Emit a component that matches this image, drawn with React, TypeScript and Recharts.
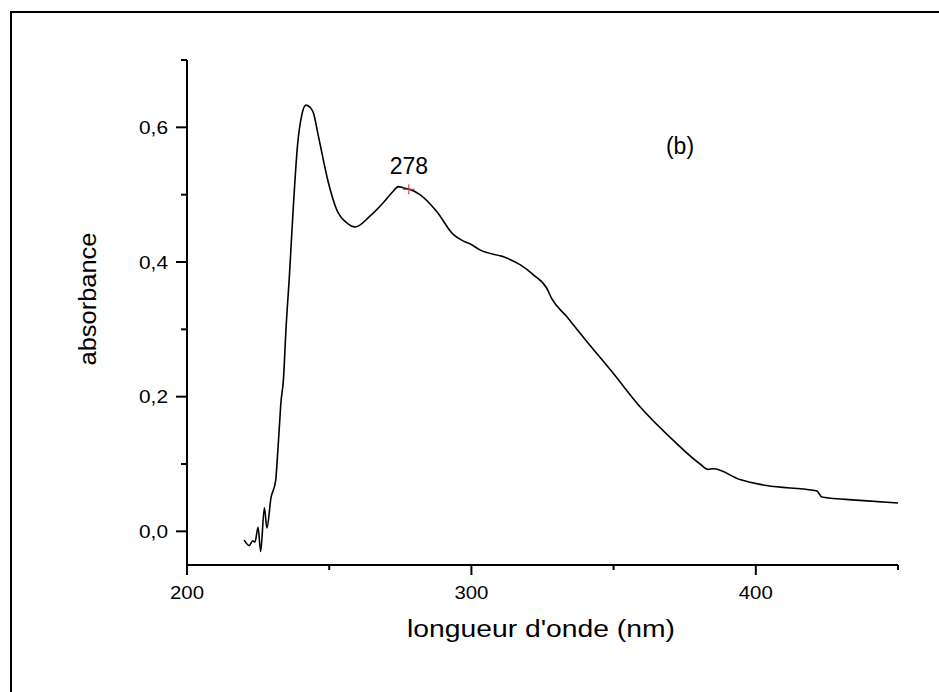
import { Label, Line, LineChart, ReferenceDot, XAxis, YAxis } from 'recharts'

// UV-vis spectrum (b)
const wavelength = [
  220.1, 221.9, 223.1, 223.9, 225.0, 225.9, 227.2, 228.1, 229.5, 231.2, 231.8, 232.4, 233.0, 233.9,
  234.8, 236.0, 237.4, 238.9, 240.3, 241.8, 243.2, 244.4, 246.2, 249.7, 252.6, 256.2, 259.1, 264.3,
  269.0, 272.5, 274.3, 276.1, 278.2, 281.9, 287.8, 293.6, 297.2, 299.5, 303.0, 312.4, 317.1, 321.8,
  326.5, 328.2, 333.5, 340.0, 350.0, 359.3, 371.0, 380.4, 383.3, 385.1, 394.4, 403.8, 420.2, 421.5,
  423.2, 436.6, 450.0,
]
const absorbance = [
  -0.013, -0.021, -0.014, -0.016, 0.006, -0.03, 0.035, 0.005, 0.049, 0.076, 0.111, 0.15, 0.19, 0.225,
  0.3, 0.379, 0.483, 0.575, 0.617, 0.633, 0.63, 0.622, 0.587, 0.518, 0.478, 0.458, 0.452, 0.468,
  0.488, 0.505, 0.512, 0.51, 0.508, 0.5, 0.475, 0.441, 0.431, 0.427, 0.418, 0.406, 0.396, 0.381,
  0.361, 0.346, 0.319, 0.285, 0.234, 0.185, 0.135, 0.1, 0.092, 0.093, 0.077, 0.068, 0.061, 0.06,
  0.051, 0.046, 0.042,
]

const xTicks = [200, 250, 300, 350, 400, 450]
const xMajor = [200, 300, 400]
const yTicks = [0, 0.1, 0.2, 0.3, 0.4, 0.5, 0.6, 0.7]
const yMajor = [0, 0.2, 0.4, 0.6]

const peakX = 278
const peakY = 0.508
const peakLabel = '278'
const panelLabel = '(b)'

const FONT = '"Liberation Sans", Arial, sans-serif'

const data = wavelength.map((w, i) => ({ w, a: absorbance[i] }))

function XTick(props: any) {
  const { x, y, payload } = props
  const major = xMajor.includes(payload.value)
  return (
    <g>
      <line x1={x} y1={y} x2={x} y2={y + (major ? 10 : 5)} stroke="#000" strokeWidth={2} />
      {major && (
        <text x={x} y={y + 34} textAnchor="middle" fontSize={18} fontFamily={FONT} fill="#000" textLength={34} lengthAdjust="spacingAndGlyphs">
          {String(payload.value)}
        </text>
      )}
    </g>
  )
}

function YTick(props: any) {
  const { x, y, payload } = props
  const major = yMajor.includes(payload.value)
  return (
    <g>
      <line x1={x - (major ? 11 : 6)} y1={y} x2={x} y2={y} stroke="#000" strokeWidth={2} />
      {major && (
        <text x={x - 19} y={y + 6.5} textAnchor="end" fontSize={18} fontFamily={FONT} fill="#000" textLength={29} lengthAdjust="spacingAndGlyphs">
          {payload.value.toFixed(1).replace('.', ',')}
        </text>
      )}
    </g>
  )
}

function PeakMark(props: any) {
  const { cx, cy } = props
  return (
    <g>
      <line x1={cx - 6} y1={cy} x2={cx + 6} y2={cy} stroke="#e0202a" strokeWidth={1} />
      <line x1={cx} y1={cy - 5} x2={cx} y2={cy + 5} stroke="#e0202a" strokeWidth={1} />
      <text x={cx} y={cy - 15} textAnchor="middle" fontSize={23} fontFamily={FONT} fill="#000">
        {peakLabel}
      </text>
    </g>
  )
}

export default function App() {
  return (
    <div style={{ position: 'absolute', left: 0, top: 0, width: 939, height: 692, background: '#fff', overflow: 'hidden' }}>
      <div
        style={{
          position: 'absolute',
          left: 10,
          top: 11,
          width: 1000,
          height: 800,
          borderTop: '2px solid #000',
          borderLeft: '2px solid #000',
        }}
      />
      <div style={{ position: 'absolute', left: 0, top: 0 }}>
        <LineChart width={939} height={692} data={data} margin={{ top: 60, right: 41, bottom: 97, left: 127 }}>
          <XAxis
            dataKey="w"
            type="number"
            domain={[200, 450]}
            ticks={xTicks}
            allowDataOverflow
            height={30}
            stroke="#000"
            strokeWidth={2}
            tickLine={false}
            tickSize={0}
            tickMargin={0}
            tick={<XTick />}
            interval={0}
          >
            <Label
              content={() => (
                <text x={541} y={637} textAnchor="middle" fontSize={23} fontFamily={FONT} fill="#000" textLength={268} lengthAdjust="spacingAndGlyphs">
                  longueur d'onde (nm)
                </text>
              )}
            />
          </XAxis>
          <YAxis
            type="number"
            domain={[-0.05, 0.7]}
            ticks={yTicks}
            allowDataOverflow
            width={60}
            stroke="#000"
            strokeWidth={2}
            tickLine={false}
            tickSize={0}
            tickMargin={0}
            tick={<YTick />}
            interval={0}
          >
            <Label
              content={() => (
                <text
                  x={96}
                  y={299}
                  transform="rotate(-90 96 299)"
                  textAnchor="middle"
                  fontSize={23}
                  fontFamily={FONT}
                  fill="#000"
                  textLength={133}
                  lengthAdjust="spacingAndGlyphs"
                >
                  absorbance
                </text>
              )}
            />
          </YAxis>
          <Line
            type="monotone"
            dataKey="a"
            stroke="#000"
            strokeWidth={1.6}
            dot={false}
            activeDot={false}
            isAnimationActive={false}
          />
          <ReferenceDot x={peakX} y={peakY} r={6} shape={<PeakMark />} />
        </LineChart>
      </div>
      <div
        style={{
          position: 'absolute',
          left: 680,
          top: 158,
          transform: 'translate(-50%, -100%)',
          fontFamily: FONT,
          fontSize: 23,
          lineHeight: '23px',
          color: '#000',
        }}
      >
        {panelLabel}
      </div>
    </div>
  )
}
